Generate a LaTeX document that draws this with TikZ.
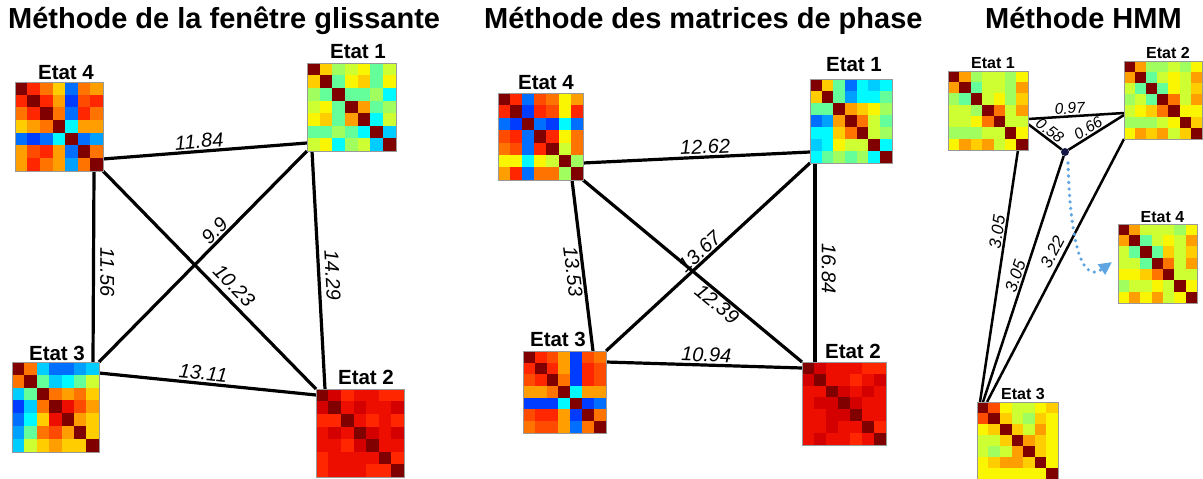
\documentclass[tikz,border=0pt]{standalone}
\usepackage{fontspec}
\setmainfont{Liberation Sans}
\usetikzlibrary{arrows.meta}
\definecolor{hmD}{RGB}{128,0,0}
\definecolor{hmS}{RGB}{212,0,0}
\definecolor{hmR}{RGB}{238,14,0}
\definecolor{hmT}{RGB}{255,38,0}
\definecolor{hmP}{RGB}{255,75,0}
\definecolor{hmO}{RGB}{255,115,0}
\definecolor{hmo}{RGB}{255,158,0}
\definecolor{hmY}{RGB}{255,205,0}
\definecolor{hmy}{RGB}{250,245,0}
\definecolor{hmL}{RGB}{205,255,50}
\definecolor{hml}{RGB}{160,255,95}
\definecolor{hmG}{RGB}{100,255,155}
\definecolor{hmC}{RGB}{0,250,255}
\definecolor{hmc}{RGB}{0,205,255}
\definecolor{hmK}{RGB}{0,160,255}
\definecolor{hmB}{RGB}{0,110,255}
\definecolor{hmb}{RGB}{0,60,255}
\definecolor{hidcol}{RGB}{20,22,70}
\definecolor{arrcol}{RGB}{95,165,225}
\newcommand\hmfill[4]{%
  \begin{scope}[shift={(#1.north west)}]
    \foreach \row [count=\i from 0] in {#4} {
      \foreach \c [count=\j from 0] in \row {
        \filldraw[fill=hm\c, draw=hm\c, line width=0.3pt]
          ({\j*#2/7},{\i*#3/7}) rectangle ++({#2/7},{#3/7});
      }
    }
  \end{scope}
  \draw[mborder] (#1.north west) rectangle (#1.south east);
}
\begin{document}
\begin{tikzpicture}[x=1pt,y=-1pt,
  mat/.style={inner sep=0pt, outer sep=0pt},
  mborder/.style={draw=gray!80, line width=0.8pt},
  title/.style={font=\fontsize{29}{34}\selectfont\bfseries, anchor=base west, inner sep=0pt},
  etat/.style={font=\fontsize{20.5}{24}\selectfont\bfseries, inner sep=1pt},
  etats/.style={font=\fontsize{16}{19}\selectfont\bfseries, inner sep=1pt},
  edge/.style={line width=3.2pt},
  edges/.style={line width=2.5pt},
  elab/.style={font=\fontsize{20}{24}\selectfont\itshape, inner sep=1.5pt, anchor=south},
  elabs/.style={font=\fontsize{15.5}{18}\selectfont\itshape, inner sep=1.2pt, anchor=south},
  elabm/.style={font=\fontsize{17}{20}\selectfont\itshape, inner sep=1.2pt, anchor=south},
]
\useasboundingbox (0,0) rectangle (1203,479);

% titles
\node[title] (t1) at (8,28) {Méthode de la fenêtre glissante};
\node[title] (t2) at (484,28) {Méthode des matrices de phase};
\node[title] (t3) at (985,28) {Méthode HMM};

% ---------- panel 1 ----------
\node[mat, minimum width=88pt, minimum height=89pt] (p1e4) at (59,126.5) {};
\node[mat, minimum width=89pt, minimum height=88pt] (p1e1) at (351.5,107) {};
\node[mat, minimum width=87pt, minimum height=90pt] (p1e3) at (55.5,407) {};
\node[mat, minimum width=88pt, minimum height=88pt] (p1e2) at (360,433) {};
\node[etat] (l1e4) at (66,73) {Etat 4};
\node[etat] (l1e1) at (358,52) {Etat 1};
\node[etat] (l1e3) at (57,353) {Etat 3};
\node[etat] (l1e2) at (366,377.5) {Etat 2};

\draw[edge] ([shift={(0,-12)}]p1e4.south east) -- node[elab, pos=.475, rotate=4.5] {11.84} ([shift={(0,-8)}]p1e1.south west);
\draw[edge] ([shift={(-9,0)}]p1e4.south east) -- node[elab, pos=.53, rotate=-90, inner sep=5pt] {11.56} ([shift={(-6,0)}]p1e3.north east);
\draw[edge] (p1e4.south east) -- node[elab, pos=.57, rotate=-45.7, inner sep=5pt] {10.23} (p1e2.north west);
\draw[edge] (p1e3.north east) -- node[elab, pos=.59, rotate=45.4] {9.9} (p1e1.south west);
\draw[edge] ([shift={(5,0)}]p1e1.south west) -- node[elab, pos=.525, rotate=-86.9, inner sep=5pt] {14.29} ([shift={(9,0)}]p1e2.north west);
\draw[edge] ([shift={(0,11)}]p1e3.north east) -- node[elab, pos=.475, rotate=-5.8] {13.11} ([shift={(0,6)}]p1e2.north west);

\hmfill{p1e4}{88}{89}{{D,T,O,Y,B,O,o},{T,D,T,o,b,P,T},{O,T,D,O,B,T,O},{Y,o,O,D,C,o,o},{B,b,B,C,D,B,K},{o,P,T,o,B,D,O},{o,T,O,o,K,O,D}}
\hmfill{p1e1}{89}{88}{{D,Y,l,L,y,G,L},{Y,D,G,y,Y,G,y},{l,G,D,G,G,l,C},{L,y,G,D,o,G,l},{y,Y,G,o,D,C,L},{G,G,l,G,C,D,c},{L,y,C,l,L,c,D}}
\hmfill{p1e3}{87}{90}{{D,O,c,B,B,K,c},{O,D,G,c,C,G,L},{c,G,D,O,o,O,Y},{b,c,O,D,R,P,o},{B,C,Y,R,D,o,Y},{K,G,O,P,o,D,Y},{c,L,Y,o,Y,Y,D}}
\hmfill{p1e2}{88}{88}{{D,S,T,R,R,T,T},{S,D,R,S,R,R,S},{T,T,D,R,T,R,T},{R,S,R,D,S,R,S},{R,R,T,S,D,R,R},{T,R,R,R,R,D,T},{T,R,R,R,T,T,D}}

% ---------- panel 2 ----------
\node[mat, minimum width=85pt, minimum height=87pt] (p2e4) at (540.5,136.5) {};
\node[mat, minimum width=82pt, minimum height=84pt] (p2e1) at (851,121) {};
\node[mat, minimum width=83pt, minimum height=82pt] (p2e3) at (564.5,392) {};
\node[mat, minimum width=84pt, minimum height=83pt] (p2e2) at (844,403.5) {};
\node[etat] (l2e4) at (546,83) {Etat 4};
\node[etat] (l2e1) at (854,65) {Etat 1};
\node[etat] (l2e3) at (558,339) {Etat 3};
\node[etat] (l2e2) at (853,351) {Etat 2};

\draw[edge] ([shift={(0,-17)}]p2e4.south east) -- node[elab, pos=.54, rotate=2.8] {12.62} ([shift={(0,-11)}]p2e1.south west);
\draw[edge] ([shift={(-11,0)}]p2e4.south east) -- node[elab, pos=.53, rotate=-83, anchor=north] {13.53} ([shift={(-13,0)}]p2e3.north east);
\draw[edge] (p2e4.south east) -- node[elab, pos=.64, rotate=-39.7, anchor=north, inner sep=1pt] {12.39} (p2e2.north west);
\draw[edge] (p2e3.north east) -- node[elab, pos=.49, rotate=42.7, inner sep=1pt] {13.67} (p2e1.south west);
\draw[edge] ([shift={(5,0)}]p2e1.south west) -- node[elab, pos=.53, rotate=-90, inner sep=5pt] {16.84} ([shift={(13,0)}]p2e2.north west);
\draw[edge] ([shift={(0,11)}]p2e3.north east) -- node[elab, pos=.51, rotate=-2] {10.94} ([shift={(0,6)}]p2e2.north west);

\hmfill{p2e4}{85}{87}{{D,T,B,P,O,y,o},{T,D,b,T,P,y,T},{B,b,D,B,b,C,B},{P,T,B,D,T,y,O},{O,P,B,T,D,L,O},{y,y,C,y,L,D,l},{o,T,B,O,O,l,D}}
\hmfill{p2e1}{82}{84}{{D,Y,G,B,C,c,C},{Y,D,G,K,C,C,G},{G,G,D,o,Y,y,l},{B,K,o,D,O,L,G},{C,C,Y,O,D,L,l},{c,C,y,L,L,D,C},{C,G,l,G,l,C,D}}
\hmfill{p2e3}{83}{82}{{D,T,P,o,b,P,O},{T,D,T,o,b,T,P},{P,T,D,O,b,T,P},{o,o,O,D,C,o,o},{b,b,b,C,D,b,B},{P,T,T,o,b,D,O},{O,P,P,o,B,O,D}}
\hmfill{p2e2}{84}{83}{{D,S,R,R,R,T,T},{S,D,R,R,T,R,S},{R,R,D,S,R,S,R},{R,S,S,D,S,R,R},{R,R,S,S,D,R,R},{R,R,S,R,R,D,T},{R,S,R,R,T,R,D}}

% ---------- panel 3 ----------
\node[mat, minimum width=80pt, minimum height=79pt] (p3e1) at (988,110.5) {};
\node[mat, minimum width=78pt, minimum height=78pt] (p3e2) at (1163,100) {};
\node[mat, minimum width=79pt, minimum height=79pt] (p3e4) at (1157.5,263.5) {};
\node[mat, minimum width=81pt, minimum height=77pt] (p3e3) at (1017.5,440.5) {};
\node[circle, fill=hidcol, inner sep=0pt, minimum size=8pt] (hid) at (1065,152) {};
\node[etats] (l3e1) at (993,63) {Etat 1};
\node[etats] (l3e2) at (1168,53) {Etat 2};
\node[etats] (l3e4) at (1162.5,216.7) {Etat 4};
\node[etats] (l3e3) at (1023,394) {Etat 3};

\draw[edges] ([shift={(0,48)}]p3e1.north east) -- node[elabs, pos=.44, rotate=3.6] {0.97} ([shift={(0,-26)}]p3e2.south west);
\draw[edges] ([shift={(0,53)}]p3e1.north east) -- node[elabs, pos=.51, rotate=-37.1] {0.58} (hid);
\draw[edges] (hid) -- node[elabs, pos=.43, rotate=32.1] {0.66} ([shift={(0,-24)}]p3e2.south west);
\draw[edges] ([shift={(-10,0)}]p3e1.south east) -- node[elabm, pos=.33, rotate=81.4] {3.05} ([shift={(3,0)}]p3e3.north west);
\draw[edges] (hid) -- node[elabm, pos=.50, rotate=71.8] {3.05} ([shift={(6,0)}]p3e3.north west);
\draw[edges] (p3e2.south west) -- node[elabm, pos=.45, rotate=62.5, inner sep=4pt] {3.22} ([shift={(10,0)}]p3e3.north west);

\coordinate (aS) at (1068,163);
\coordinate (aE) at (1112,262);
\draw[arrcol, line width=3.6pt, line cap=round, dash pattern=on 0pt off 6.5pt,
      -{Triangle[length=13pt,width=12pt]}]
  (aS) .. controls (1070,235) and (1080,285) .. (aE);

\hmfill{p3e1}{80}{79}{{D,o,l,L,L,l,y},{o,D,G,L,L,l,o},{l,G,D,L,y,l,Y},{L,L,l,D,O,L,o},{L,L,y,O,D,L,L},{l,l,l,L,L,D,y},{y,o,Y,o,L,y,D}}
\hmfill{p3e2}{78}{78}{{D,o,l,l,L,l,y},{o,D,G,L,y,L,o},{L,G,D,G,y,L,Y},{l,L,G,D,O,L,o},{L,y,Y,O,D,y,y},{l,l,l,L,y,D,Y},{y,o,Y,o,L,Y,D}}
\hmfill{p3e4}{79}{79}{{D,o,L,L,L,l,y},{o,D,G,L,y,L,o},{L,G,D,G,Y,L,Y},{L,L,G,D,O,L,o},{y,y,Y,O,D,L,L},{l,L,L,y,L,D,y},{y,o,y,o,L,y,D}}
\hmfill{p3e3}{81}{77}{{D,P,y,L,L,y,Y},{P,D,Y,L,l,Y,y},{y,Y,D,Y,L,o,y},{L,L,Y,D,o,Y,y},{L,l,L,o,D,Y,y},{y,Y,o,o,Y,D,y},{y,y,y,y,y,y,D}}
\end{tikzpicture}
\end{document}
